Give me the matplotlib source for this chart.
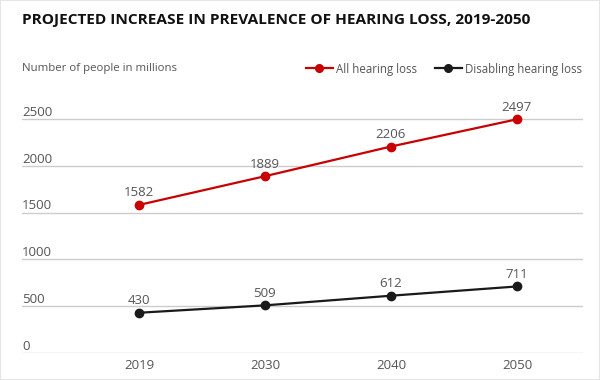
import numpy as np
import matplotlib
matplotlib.use('Agg')
import matplotlib.pyplot as plt
from matplotlib.lines import Line2D

# ----
# Data
# ----
years = ['2019', '2030', '2040', '2050']
all_loss = [1582, 1889, 2206, 2497]
disabling_loss = [430, 509, 612, 711]
y_ticks = [0, 500, 1000, 1500, 2000, 2500]

red = '#c80000'
black = '#1a1a1a'
grey_text = '#555555'

plt.rcParams['font.family'] = ['Open Sans', 'DejaVu Sans']

fig = plt.figure(figsize=(6, 3.8), dpi=100)
ax = fig.add_axes([22/600, 1-353/380, (583-22)/600, 2.6*93.6/380])

x = np.arange(len(years))
ax.plot(x, all_loss, color=red, lw=1.6, marker='o', ms=6, zorder=3)
ax.plot(x, disabling_loss, color=black, lw=1.6, marker='o', ms=6, zorder=3)

for xi, v in zip(x, all_loss):
    ax.annotate(str(v), (xi, v), xytext=(0, 4), textcoords='offset points',
                ha='center', va='bottom', fontsize=9.5, color=grey_text)
for xi, v in zip(x, disabling_loss):
    ax.annotate(str(v), (xi, v), xytext=(0, 4), textcoords='offset points',
                ha='center', va='bottom', fontsize=9.5, color=grey_text)

# gridlines + labels sitting above them
ax.set_ylim(0, 2600)
ax.set_xlim((22-139)/126, (583-139)/126)
for t in y_ticks:
    ax.axhline(t, color='#cccccc', lw=1, zorder=1)
    ax.text(0.0, t + 2, str(t), transform=ax.get_yaxis_transform(),
            ha='left', va='bottom', fontsize=9.5, color=grey_text)

ax.set_xticks(x)
ax.set_xticklabels(years, fontsize=9.5, color=grey_text)
ax.tick_params(axis='x', length=0, pad=4)
ax.set_yticks([])
for s in ax.spines.values():
    s.set_visible(False)

# Title and subtitle
fig.text(22/600, 1-20/380, 'PROJECTED INCREASE IN PREVALENCE OF HEARING LOSS, 2019-2050',
         fontsize=11.1, fontweight='bold', color='#111111', va='center', ha='left')
fig.text(22/600, 1-68/380, 'Number of people in millions', fontsize=8.2,
         color=grey_text, va='center', ha='left')

# Legend
handles = [Line2D([], [], color=red, lw=1.6, marker='o', ms=5.5),
           Line2D([], [], color=black, lw=1.6, marker='o', ms=5.5)]
leg = fig.legend(handles, ['All hearing loss', 'Disabling hearing loss'],
                 loc='center right', bbox_to_anchor=(588/600, 1-69/380), ncol=2,
                 frameon=False, fontsize=8.3, handlelength=2.35, handletextpad=0.3,
                 columnspacing=1.5, borderpad=0)
for t in leg.get_texts():
    t.set_color(grey_text)

# light frame
fig.patches.append(plt.Rectangle((0, 0), 1, 1, transform=fig.transFigure,
                                 fill=False, edgecolor='#e6e6e6', lw=1.5))

fig.savefig('out.png', dpi=100)
